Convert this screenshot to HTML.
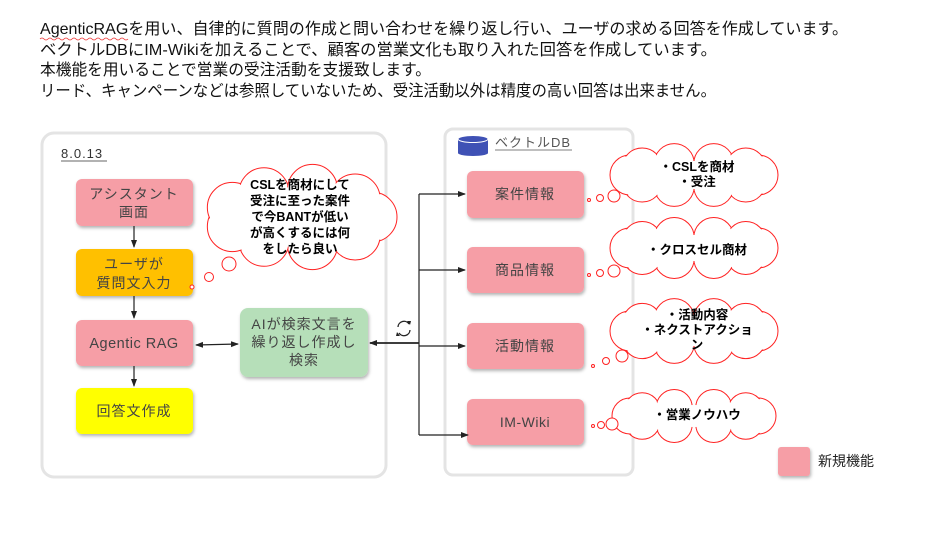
<!DOCTYPE html>
<html><head><meta charset="utf-8"><style>
html,body{margin:0;padding:0;background:#fff;}
svg{display:block;}
text{font-family:"Liberation Sans","Noto Sans CJK JP",sans-serif;}
</style></head><body>
<svg id="s" width="927" height="535" viewBox="0 0 927 535" xmlns="http://www.w3.org/2000/svg">
<defs>
<filter id="sh" x="-10%" y="-10%" width="130%" height="140%"><feDropShadow dx="1" dy="2" stdDeviation="1.5" flood-color="#000" flood-opacity="0.3"/></filter>
<marker id="ar" markerWidth="8" markerHeight="8" refX="7" refY="4" orient="auto" markerUnits="userSpaceOnUse"><path d="M0,1 L8,4 L0,7 z" fill="#222"/></marker>
<marker id="al" markerWidth="8" markerHeight="8" refX="1" refY="4" orient="auto" markerUnits="userSpaceOnUse"><path d="M8,1 L0,4 L8,7 z" fill="#222"/></marker>
</defs>
<g font-size="16" fill="#111">
<text x="40" y="34" textLength="808" lengthAdjust="spacingAndGlyphs">AgenticRAGを用い、自律的に質問の作成と問い合わせを繰り返し行い、ユーザの求める回答を作成しています。</text>
<text x="40" y="55" textLength="677" lengthAdjust="spacingAndGlyphs">ベクトルDBにIM-Wikiを加えることで、顧客の営業文化も取り入れた回答を作成しています。</text>
<text x="40" y="75" textLength="391" lengthAdjust="spacingAndGlyphs">本機能を用いることで営業の受注活動を支援致します。</text>
<text x="40" y="96" textLength="676" lengthAdjust="spacingAndGlyphs">リード、キャンペーンなどは参照していないため、受注活動以外は精度の高い回答は出来ません。</text>
</g>
<path d="M40,39 q2,-2 4,0 t4,0 t4,0 t4,0 t4,0 t4,0 t4,0 t4,0 t4,0 t4,0 t4,0 t4,0 t4,0 t4,0 t4,0 t4,0 t4,0 t4,0 t4,0 t4,0 t4,0 t4,0" stroke="#e33" stroke-width="0.8" fill="none"/>

<rect x="42" y="133" width="344" height="344" rx="12" fill="#fff" stroke="#e4e4e4" stroke-width="3"/>
<rect x="445" y="129" width="188" height="346" rx="8" fill="#fff" stroke="#e4e4e4" stroke-width="3"/>
<text x="61" y="158" font-size="13" fill="#333" letter-spacing="1">8.0.13</text>
<line x1="61" y1="161" x2="107" y2="161" stroke="#333" stroke-width="0.8"/>

<g filter="url(#sh)">
<rect x="76" y="179" width="117" height="47" rx="6" fill="#f69ea6"/>
<rect x="76" y="249" width="117" height="47" rx="6" fill="#ffc000"/>
<rect x="76" y="320" width="117" height="46" rx="6" fill="#f69ea6"/>
<rect x="76" y="388" width="117" height="46" rx="6" fill="#ffff00"/>
<rect x="240" y="308" width="128" height="69" rx="8" fill="#b6dfb9"/>
<rect x="467" y="171" width="117" height="47" rx="6" fill="#f69ea6"/>
<rect x="467" y="247" width="117" height="46" rx="6" fill="#f69ea6"/>
<rect x="467" y="323" width="117" height="46" rx="6" fill="#f69ea6"/>
<rect x="467" y="399" width="117" height="46" rx="6" fill="#f69ea6"/>
<rect x="778" y="447" width="32" height="29" rx="3" fill="#f69ea6"/>
</g>
<g font-size="14" fill="#444" text-anchor="middle" letter-spacing="1">
<text x="134" y="199">アシスタント</text><text x="134" y="217">画面</text>
<text x="134" y="269">ユーザが</text><text x="134" y="288">質問文入力</text>
<text x="134" y="348" font-size="14.5" letter-spacing="0.5">Agentic RAG</text>
<text x="134" y="416">回答文作成</text>
<text x="304" y="329">AIが検索文言を</text><text x="304" y="347">繰り返し作成し</text><text x="304" y="365">検索</text>
<text x="525" y="199">案件情報</text>
<text x="525" y="275">商品情報</text>
<text x="525" y="351">活動情報</text>
<text x="525" y="427" letter-spacing="0.5">IM-Wiki</text>
</g>
<text x="818" y="466" font-size="14" fill="#222">新規機能</text>

<rect x="458" y="139" width="30" height="14" fill="#3f51b5"/>
<ellipse cx="473" cy="153" rx="15" ry="3" fill="#3f51b5"/>
<ellipse cx="473" cy="139" rx="15" ry="3.5" fill="#3f51b5" stroke="#fff" stroke-width="1"/>
<text x="495" y="147" font-size="13" fill="#555" letter-spacing="1">ベクトルDB</text>
<line x1="495" y1="150" x2="572" y2="150" stroke="#555" stroke-width="0.8"/>

<g stroke="#222" stroke-width="1.2" fill="none">
<line x1="134" y1="226" x2="134" y2="247" marker-end="url(#ar)"/>
<line x1="134" y1="296" x2="134" y2="318" marker-end="url(#ar)"/>
<line x1="134" y1="366" x2="134" y2="386" marker-end="url(#ar)"/>
<line x1="196" y1="345" x2="238" y2="344" marker-start="url(#al)" marker-end="url(#ar)"/>
<line x1="419" y1="194" x2="419" y2="435"/>
<line x1="419" y1="343" x2="370" y2="343" stroke-width="1.8" marker-end="url(#ar)"/>
<line x1="419" y1="194" x2="465" y2="194" marker-end="url(#ar)"/>
<line x1="419" y1="270" x2="465" y2="270" marker-end="url(#ar)"/>
<line x1="419" y1="346" x2="465" y2="346" marker-end="url(#ar)"/>
<line x1="419" y1="435" x2="468" y2="435" marker-end="url(#ar)"/>
</g>
<g stroke="#222" stroke-width="1.3" fill="none">
<path d="M398,327 a6,6 0 0 1 11,-3"/><path d="M410,330 a6,6 0 0 1 -11,3"/>
</g>
<path d="M407,321 l4,0 l-1,4 z M400,336 l-4,0 l1,-4 z" fill="#222"/>

<g id="clouds"></g>
<g font-size="12.5" fill="#000" text-anchor="middle" font-weight="bold">
<text x="300" y="189">CSLを商材にして</text>
<text x="300" y="205">受注に至った案件</text>
<text x="300" y="221">で今BANTが低い</text>
<text x="300" y="237">が高くするには何</text>
<text x="300" y="253">をしたら良い</text>
<text x="697" y="171">・CSLを商材</text>
<text x="697" y="186">・受注</text>
<text x="697" y="254">・クロスセル商材</text>
<text x="697" y="319">・活動内容</text>
<text x="697" y="334">・ネクストアクショ</text>
<text x="697" y="349">ン</text>
<text x="697" y="419">・営業ノウハウ</text>
</g>
</svg>
<script>
(function(){
var g=document.getElementById('clouds'),NS='http://www.w3.org/2000/svg';
function el(n,a){var e=document.createElementNS(NS,n);for(var k in a)e.setAttribute(k,a[k]);g.appendChild(e);return e;}
function cloud(cx,cy,a,b,r,n){
 for(var i=0;i<n;i++){var t=i/n*2*Math.PI;el('circle',{cx:cx+a*Math.cos(t),cy:cy+b*Math.sin(t),r:r,fill:'#fff',stroke:'#f22','stroke-width':1});}
 for(var i=0;i<n;i++){var t=i/n*2*Math.PI;el('circle',{cx:cx+a*Math.cos(t),cy:cy+b*Math.sin(t),r:r-1,fill:'#fff'});}
 el('ellipse',{cx:cx,cy:cy,rx:a+2,ry:b+2,fill:'#fff'});
}
function bub(x,y,r){el('circle',{cx:x,cy:y,r:r,fill:'#fff',stroke:'#f22','stroke-width':1});}
cloud(300,217,72,28,25,9);
bub(229,264,7);bub(209,277,4.5);bub(192,287,2);
cloud(694,175,64,12,20,10);
bub(614,196,6);bub(600,198,3.5);bub(589,200,1.5);
cloud(694,248,64,11,20,10);
bub(614,271,6);bub(600,273,3.5);bub(589,275,1.5);
cloud(694,331,64,13,20,10);
bub(622,356,6);bub(606,361,3.5);bub(593,366,1.5);
cloud(694,416,64,9,18,10);
bub(612,424,6);bub(601,425,3.5);bub(593,426,1.5);
})();
</script>
</body></html>
